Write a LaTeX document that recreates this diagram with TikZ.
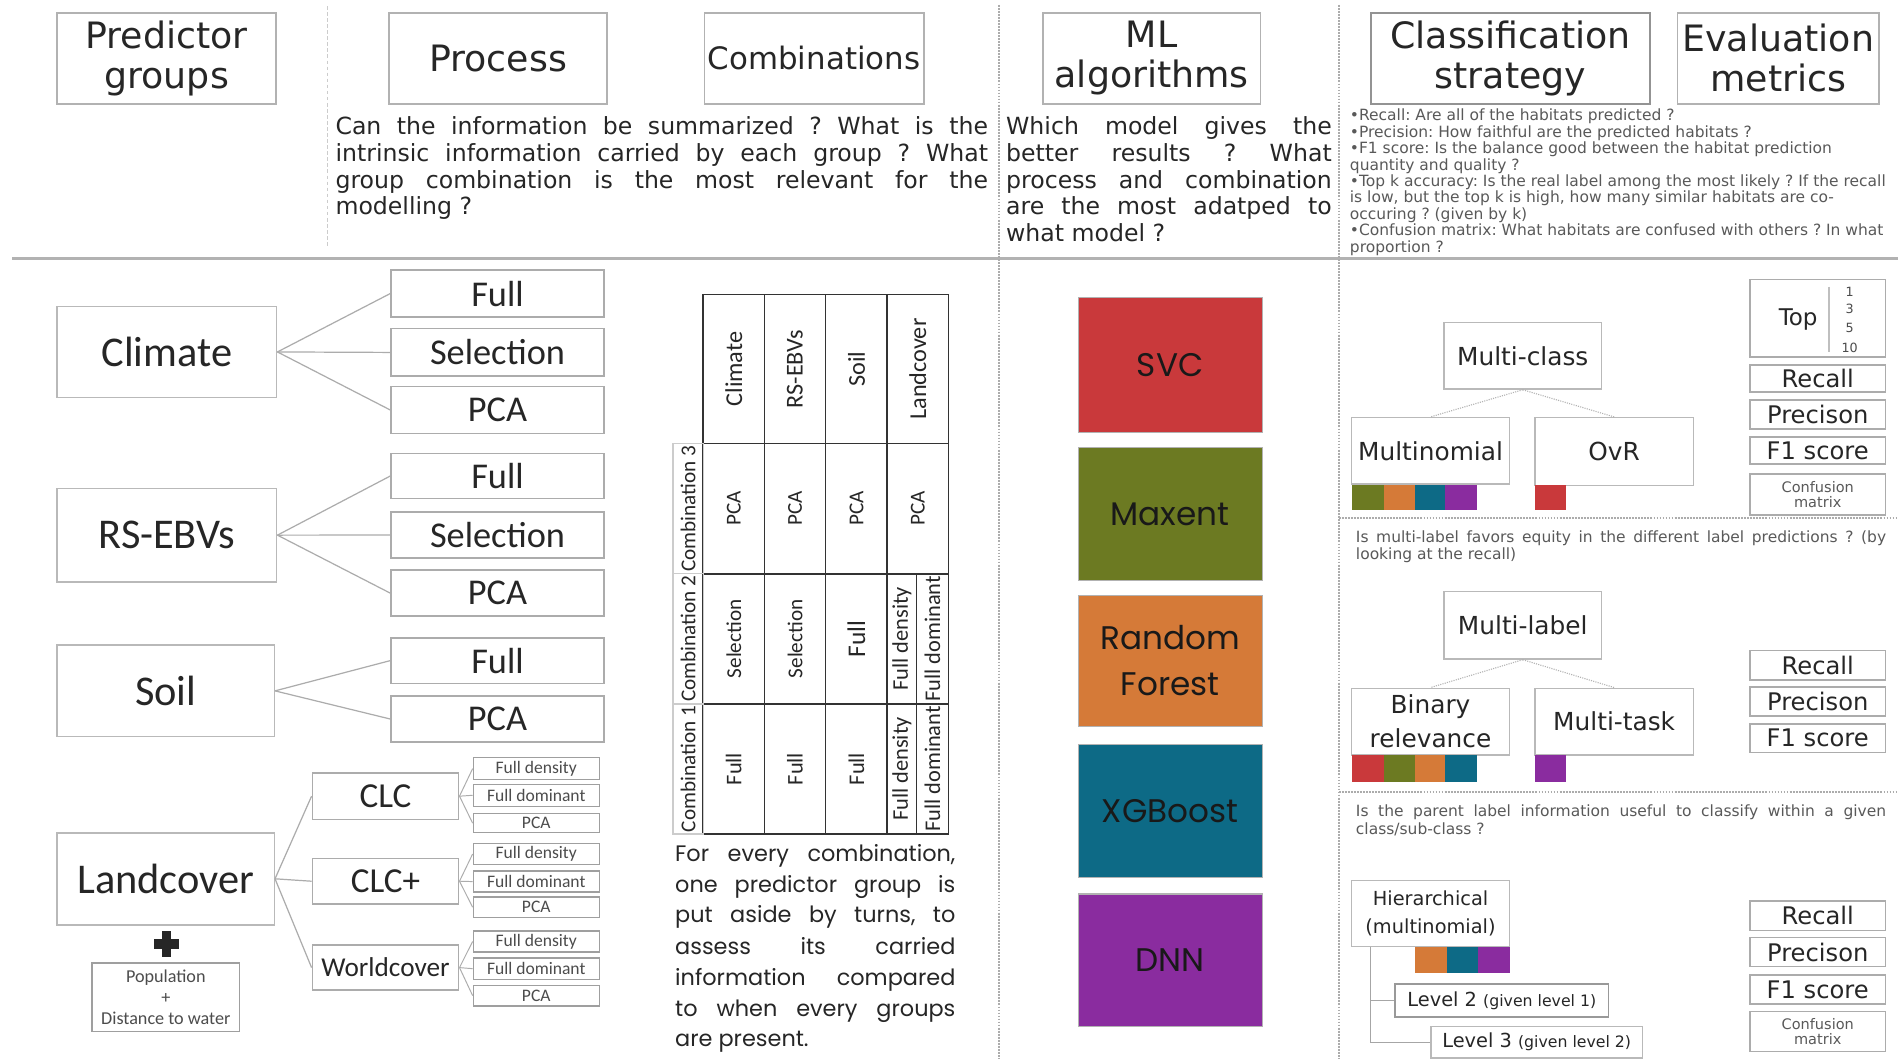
\documentclass[tikz,border=0pt]{standalone}
\usepackage{fontspec}
\setmainfont{DejaVu Sans}
\newfontfamily\calib{Carlito}
\newfontfamily\goth{Poppins}
\definecolor{cRed}{HTML}{C9393B}
\definecolor{cOlive}{HTML}{6C7A22}
\definecolor{cOrange}{HTML}{D57A38}
\definecolor{cTeal}{HTML}{0D6A86}
\definecolor{cPurple}{HTML}{8A2C9F}
\newcommand\fsz[2]{\fontsize{#1}{#2}\selectfont}
\newcommand\jline[2]{\makebox[#1][s]{#2}}
\newcommand\mybox[7]{%
  \pgfmathsetmacro\bxw{#4-#2}\pgfmathsetmacro\bxh{#5-#3}%
  \pgfmathsetmacro\bxx{(#2+#4)/2}\pgfmathsetmacro\bxy{(#3+#5)/2}%
  \node[#6, minimum width=\bxw pt, minimum height=\bxh pt] (#1) at (\bxx,\bxy) {#7};}
\tikzset{
  box/.style={draw=gray!55, line width=1.2pt, inner sep=0pt, align=center, text=black!85},
  hdr/.style={box, draw=gray!60, line width=1.5pt, font=\fsz{30}{33}},
  grp/.style={box, font=\calib\fsz{35}{40}},
  subbox/.style={box, draw=gray!65, font=\calib\fsz{30}{34}},
  tinybox/.style={box, draw=gray!75, line width=1.1pt, font=\calib\fsz{14.5}{16}, text=black!70},
  link/.style={draw=gray!65, line width=1pt},
  mlbox/.style={draw=gray!60, line width=1pt, inner sep=0pt, align=center, font=\goth\fsz{27}{38}, text=black!90},
  cls/.style={box, font=\fsz{20.5}{28}},
  met/.style={box, draw=gray!65, font=\fsz{20}{22}},
  dlink/.style={draw=gray!60, line width=0.9pt, densely dotted},
  ptxt/.style={inner sep=0pt, anchor=base west, text=black!85, font=\fsz{19.5}{22}},
  stxt/.style={inner sep=0pt, anchor=base west, text=black!65, font=\fsz{12.8}{13.6}},
  gtxt/.style={inner sep=0pt, anchor=base west, text=black!85, font=\goth\fsz{18.5}{25}},
  tab/.style={draw=black!80, line width=1.3pt},
  tablab/.style={draw=gray!40, line width=1pt},
  tcell/.style={inner sep=0pt, rotate=90, text=black!85, font=\calib\fsz{17.5}{20}},
  sep/.style={draw=gray!65, line width=1.5pt, densely dotted}
}
\frenchspacing
\begin{document}
\frenchspacing
\begin{tikzpicture}[x=1pt,y=-1pt]
\useasboundingbox (0,0) rectangle (1568,875);
\fill[white] (0,0) rectangle (1568,875);

% separators
\draw[gray!60, line width=2.5pt] (10,213.4) -- (1568,213.4);
\draw[gray!40, line width=0.8pt, densely dashed] (270.3,5) -- (270.3,204);
\draw[sep] (825,4) -- (825,875);
\draw[sep] (1106,4) -- (1106,875);
\draw[sep] (1106,428) -- (1568,428);
\draw[sep] (1106,654.5) -- (1568,654.5);

% headers
\mybox{hPred}{47.4}{10.5}{228}{86}{hdr}{Predictor\\groups}
\mybox{hProc}{321.4}{10.5}{501.6}{86}{hdr}{Process}
\mybox{hComb}{582}{10.5}{763}{86}{hdr,font=\fsz{25.5}{30}}{Combinations}
\mybox{hML}{861.6}{10.5}{1041.4}{86}{hdr}{ML\\algorithms}
\mybox{hCls}{1132.7}{10.5}{1363}{86}{hdr,draw=gray!85}{Classification\\strategy}
\mybox{hEval}{1385.8}{10.5}{1552.4}{86}{hdr}{Evaluation\\metrics}

% process paragraph
\node[ptxt] (p1) at (277,111.5) {\jline{539pt}{Can the information be summarized ? What is the}};
\node[ptxt] (p2) at (277,133.5) {\jline{539pt}{intrinsic information carried by each group ? What}};
\node[ptxt] (p3) at (277,155.5) {\jline{539pt}{group combination is the most relevant for the}};
\node[ptxt] (p4) at (277,177.5) {modelling ?};

% ML paragraph
\node[ptxt] (m1) at (831,111.5) {\jline{269pt}{Which model gives the}};
\node[ptxt] (m2) at (831,133.5) {\jline{269pt}{better results ? What}};
\node[ptxt] (m3) at (831,155.5) {\jline{269pt}{process and combination}};
\node[ptxt] (m4) at (831,177.5) {\jline{269pt}{are the most adatped to}};
\node[ptxt] (m5) at (831,199.5) {what model ?};

% metric bullets
\node[stxt] (b1) at (1115,99.7) {•Recall: Are all of the habitats predicted ?};
\node[stxt] (b2) at (1115,113.3) {•Precision: How faithful are the predicted habitats ?};
\node[stxt] (b3) at (1115,126.9) {•F1 score: Is the balance good between the habitat prediction};
\node[stxt] (b4) at (1115,140.5) {quantity and quality ?};
\node[stxt] (b5) at (1115,154.1) {•Top k accuracy: Is the real label among the most likely ? If the recall};
\node[stxt] (b6) at (1115,167.7) {is low, but the top k is high, how many similar habitats are co-};
\node[stxt] (b7) at (1115,181.3) {occuring ? (given by k)};
\node[stxt] (b8) at (1115,194.9) {•Confusion matrix: What habitats are confused with others ? In what};
\node[stxt] (b9) at (1115,208.5) {proportion ?};

% predictor groups
\mybox{clim}{47.2}{253.3}{228.6}{328.2}{grp}{Climate}
\mybox{cF}{323}{223}{499}{262}{subbox}{Full}
\mybox{cS}{323}{271.5}{499}{310.8}{subbox}{Selection}
\mybox{cP}{323}{319.4}{499}{358}{subbox}{PCA}
\mybox{rs}{47.2}{403.5}{228.6}{480.7}{grp}{RS-EBVs}
\mybox{rF}{323}{374.5}{499}{412}{subbox}{Full}
\mybox{rS}{323}{423}{499}{461}{subbox}{Selection}
\mybox{rP}{323}{471}{499}{509}{subbox}{PCA}
\mybox{soil}{47.2}{533}{226.6}{608.5}{grp}{Soil}
\mybox{sF}{323}{527}{499}{564.5}{subbox}{Full}
\mybox{sP}{323}{575}{499}{613}{subbox}{PCA}
\foreach \t in {cF,cS,cP} \draw[link] (clim.east) -- (\t.west);
\foreach \t in {rF,rS,rP} \draw[link] (rs.east) -- (\t.west);
\foreach \t in {sF,sP} \draw[link] (soil.east) -- (\t.west);

\mybox{land}{47.2}{688}{226.6}{764}{grp}{Landcover}
\mybox{clc}{258}{638.5}{379}{677}{subbox,font=\calib\fsz{29}{32}}{CLC}
\mybox{clcp}{258}{709}{379}{747}{subbox,font=\calib\fsz{29}{32}}{CLC+}
\mybox{wc}{258}{780.7}{379}{818}{subbox,font=\calib\fsz{22.5}{26}}{Worldcover}
\foreach \t in {clc,clcp,wc} \draw[link] (land.east) -- (\t.west);
\mybox{aFd}{391}{626}{495}{644}{tinybox}{Full density}
\mybox{aFm}{391}{648}{495}{666}{tinybox}{Full dominant}
\mybox{aP}{391}{672}{495}{688}{tinybox}{PCA}
\mybox{bFd}{391}{697}{495}{714}{tinybox}{Full density}
\mybox{bFm}{391}{719.6}{495}{737}{tinybox}{Full dominant}
\mybox{bP}{391}{741}{495}{758}{tinybox}{PCA}
\mybox{wFd}{391}{769}{495}{786.5}{tinybox}{Full density}
\mybox{wFm}{391}{791.5}{495}{809}{tinybox}{Full dominant}
\mybox{wP}{391}{814}{495}{831}{tinybox}{PCA}
\foreach \t in {aFd,aFm,aP} \draw[link,line width=0.8pt] (clc.east) -- (\t.west);
\foreach \t in {bFd,bFm,bP} \draw[link,line width=0.8pt] (clcp.east) -- (\t.west);
\foreach \t in {wFd,wFm,wP} \draw[link,line width=0.8pt] (wc.east) -- (\t.west);

% plus and population
\fill[black!85] (133.6,769.5) rectangle (141.6,790.5);
\fill[black!85] (127,776) rectangle (148.2,784);
\mybox{pop}{76}{795.7}{198}{852}{box,draw=gray!75,font=\calib\fsz{15}{17},text=black!70}{Population\\+\\Distance to water}

% combination table
\draw[tab] (581,243.2) rectangle (783.4,689);
\foreach \x in {631.4,682.1,733} \draw[tab] (\x,243.2) -- (\x,689);
\foreach \y in {366.5,474,581.6} \draw[tab] (581,\y) -- (783.4,\y);
\draw[tab] (757,474) -- (757,689);
\draw[tablab] (556,366.5) rectangle (581,689);
\draw[tablab] (556,474) -- (581,474);
\draw[tablab] (556,581.6) -- (581,581.6);
\node[tcell] (lb3) at (568.5,420.25) {Combination 3};
\node[tcell] (lb2) at (568.5,527.8) {Combination 2};
\node[tcell] (lb1) at (568.5,635.3) {Combination 1};
\node[tcell,font=\calib\fsz{20}{22}] (h1) at (606.2,304.9) {Climate};
\node[tcell,font=\calib\fsz{20}{22}] (h2) at (656.75,304.9) {RS-EBVs};
\node[tcell,font=\calib\fsz{20}{22}] (h3) at (707.55,304.9) {Soil};
\node[tcell,font=\calib\fsz{20}{22}] (h4) at (758.2,304.9) {Landcover};
\node[tcell] (c31) at (606.2,420.25) {PCA};
\node[tcell] (c32) at (656.75,420.25) {PCA};
\node[tcell] (c33) at (707.55,420.25) {PCA};
\node[tcell] (c34) at (758.2,420.25) {PCA};
\node[tcell] (c21) at (606.2,527.8) {Selection};
\node[tcell] (c22) at (656.75,527.8) {Selection};
\node[tcell,font=\calib\fsz{21}{23}] (c23) at (707.55,527.8) {Full};
\node[tcell,font=\calib\fsz{18.5}{20}] (c24) at (745,527.8) {Full density};
\node[tcell,font=\calib\fsz{18.5}{20}] (c25) at (770.2,527.8) {Full dominant};
\node[tcell,font=\calib\fsz{18.5}{20}] (c11) at (606.2,635.3) {Full};
\node[tcell,font=\calib\fsz{18.5}{20}] (c12) at (656.75,635.3) {Full};
\node[tcell,font=\calib\fsz{18.5}{20}] (c13) at (707.55,635.3) {Full};
\node[tcell,font=\calib\fsz{18.5}{20}] (c14) at (745,635.3) {Full density};
\node[tcell,font=\calib\fsz{18.5}{20}] (c15) at (770.2,635.3) {Full dominant};

% combination paragraph
\node[gtxt] (g1) at (557.6,711.3) {\jline{231.5pt}{For every combination,}};
\node[gtxt] (g2) at (557.6,737.5) {\jline{231.5pt}{one predictor group is}};
\node[gtxt] (g3) at (557.6,762.3) {\jline{231.5pt}{put aside by turns, to}};
\node[gtxt] (g4) at (557.6,788.4) {\jline{231.5pt}{assess its carried}};
\node[gtxt] (g5) at (557.6,814) {\jline{231.5pt}{information compared}};
\node[gtxt] (g6) at (557.6,839.4) {\jline{231.5pt}{to when every groups}};
\node[gtxt] (g7) at (557.6,864.2) {are present.};

% ML algorithms
\mybox{svc}{890.7}{246}{1042.7}{357}{mlbox,fill=cRed}{SVC}
\mybox{maxent}{890.7}{370}{1042.7}{479.5}{mlbox,fill=cOlive}{Maxent}
\mybox{rf}{890.7}{492}{1042.7}{600}{mlbox,fill=cOrange}{Random\\Forest}
\mybox{xgb}{890.7}{615}{1042.7}{724.7}{mlbox,fill=cTeal}{XGBoost}
\mybox{dnn}{890.7}{738.6}{1042.7}{848}{mlbox,fill=cPurple}{DNN}

% classification strategy
\mybox{mc}{1193}{266.6}{1323}{321.4}{cls}{Multi-class}
\mybox{mn}{1116.6}{345}{1247}{400}{cls}{Multinomial}
\mybox{ovr}{1268}{345}{1399}{401}{cls}{OvR}
\draw[dlink] (mc.south) -- (mn.north);
\draw[dlink] (mc.south) -- (ovr.north);
\fill[cOlive] (1117.3,400.7) rectangle (1143.7,421.3);
\fill[cOrange] (1143.7,400.7) rectangle (1168.7,421.3);
\fill[cTeal] (1168.7,400.7) rectangle (1193.7,421.3);
\fill[cPurple] (1193.7,400.7) rectangle (1220,421.3);
\fill[cRed] (1268,400.7) rectangle (1294,421.3);

\node[stxt] (q1) at (1120,448.5) {\jline{438pt}{Is multi-label favors equity in the different label predictions ? (by}};
\node[stxt] (q2) at (1120,462.5) {looking at the recall)};

\mybox{mlab}{1193}{488.8}{1323}{544.4}{cls}{Multi-label}
\mybox{br}{1116.6}{568.6}{1247}{623.7}{cls}{Binary\\relevance}
\mybox{mt}{1268}{568.6}{1399}{623.7}{cls}{Multi-task}
\draw[dlink] (mlab.south) -- (br.north);
\draw[dlink] (mlab.south) -- (mt.north);
\fill[cRed] (1117.3,623.7) rectangle (1143.7,645.7);
\fill[cOlive] (1143.7,623.7) rectangle (1168.7,645.7);
\fill[cOrange] (1168.7,623.7) rectangle (1193.7,645.7);
\fill[cTeal] (1193.7,623.7) rectangle (1220,645.7);
\fill[cPurple] (1268,623.7) rectangle (1294,645.7);

\node[stxt] (q3) at (1120,674.8) {\jline{438pt}{Is the parent label information useful to classify within a given}};
\node[stxt] (q4) at (1120,689.2) {class/sub-class ?};

\mybox{hier}{1116.6}{727.5}{1247}{782}{cls,font=\fsz{16}{23}}{Hierarchical\\(multinomial)}
\fill[cOrange] (1168.7,782) rectangle (1195,803.5);
\fill[cTeal] (1195,782) rectangle (1221,803.5);
\fill[cPurple] (1221,782) rectangle (1247.5,803.5);
\mybox{lv2}{1152.4}{813}{1329}{840}{cls,draw=gray!80,font=\fsz{16}{18}}{Level 2 {\fsz{13}{15}(given level 1)}}
\mybox{lv3}{1182}{848}{1357}{874}{cls,font=\fsz{16}{18}}{Level 3 {\fsz{13}{15}(given level 2)}}
\coordinate (hb) at (1132,782);
\draw[gray!70, line width=1pt] (hb) |- (lv3.west);
\draw[gray!70, line width=1pt] (hb) |- (lv2.west);

% evaluation metrics
\mybox{top}{1445.7}{231}{1557.7}{295}{met}{}
\node[inner sep=0pt, font=\fsz{19}{21}, text=black!85] (toptxt) at (1485.5,264) {Top};
\draw[gray!50, line width=1pt] (1511,237) -- (1511,291);
\node[inner sep=0pt, font=\fsz{10.5}{12}, text=black!70] (k1) at (1528,241) {1};
\node[inner sep=0pt, font=\fsz{10.5}{12}, text=black!70] (k3) at (1528,255.5) {3};
\node[inner sep=0pt, font=\fsz{10.5}{12}, text=black!70] (k5) at (1528,271) {5};
\node[inner sep=0pt, font=\fsz{10.5}{12}, text=black!70] (k10) at (1528,287) {10};
\mybox{rc1}{1445.7}{301.6}{1557.7}{324}{met}{Recall}
\mybox{pr1}{1445.7}{330.4}{1557.7}{354.5}{met}{Precison}
\mybox{fa1}{1445.7}{361}{1557.7}{383.4}{met}{F1 score}
\mybox{cm1}{1445.7}{391.6}{1557.7}{425.5}{met,font=\fsz{12}{13},text=black!65}{Confusion\\matrix}
\mybox{rc2}{1445.7}{537.5}{1557.7}{561.8}{met}{Recall}
\mybox{pr2}{1445.7}{567.6}{1557.7}{591.5}{met}{Precison}
\mybox{fa2}{1445.7}{598}{1557.7}{621.8}{met}{F1 score}
\mybox{rc3}{1445.7}{744.4}{1557.7}{768.8}{met}{Recall}
\mybox{pr3}{1445.7}{774.6}{1557.7}{798.6}{met}{Precison}
\mybox{fa3}{1445.7}{805.5}{1557.7}{829.4}{met}{F1 score}
\mybox{cm3}{1445.7}{835.7}{1557.7}{868.8}{met,font=\fsz{12}{13},text=black!65}{Confusion\\matrix}
\end{tikzpicture}
\end{document}
